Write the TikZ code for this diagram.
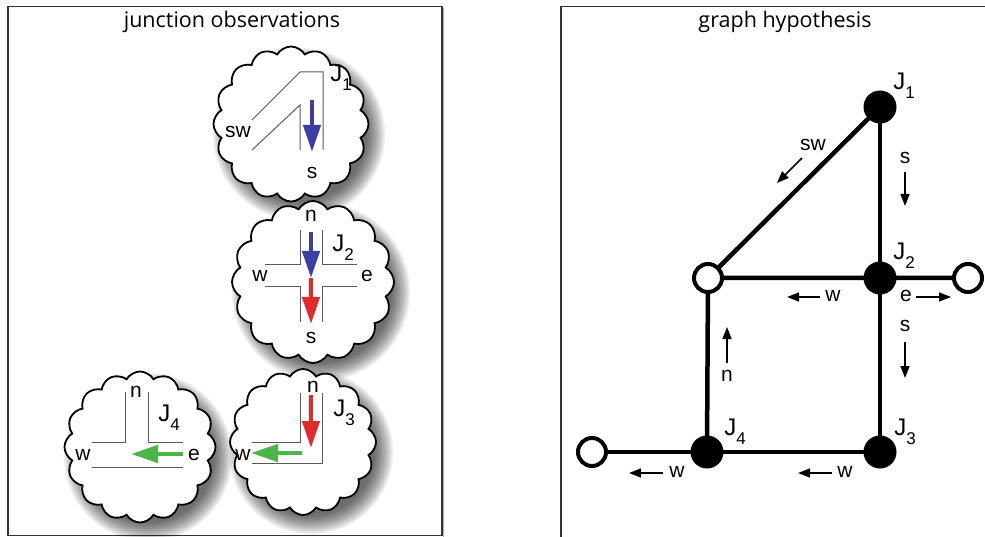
\documentclass[tikz,border=0pt]{standalone}
\usepackage{fontspec}
\setmainfont{Liberation Sans}
\newfontfamily\titlefont{Open Sans}
\usetikzlibrary{arrows.meta,shapes.symbols}

\definecolor{jblue}{RGB}{60,62,165}
\definecolor{jred}{RGB}{226,42,42}
\definecolor{jgreen}{RGB}{76,180,72}
\definecolor{roadgray}{RGB}{90,90,90}
\definecolor{framegray}{RGB}{50,50,50}

% junction name with a lowered index
\newcommand\jname[1]{J\raisebox{-0.38em}{\fontsize{17}{17}\selectfont #1}}

% soft drop shadow under a cloud: centre x, centre y, radius
\newcommand\cloudshadow[3]{%
  \foreach \k in {0,...,13}{%
    \fill[black, opacity=0.055] ({#1+8},{#2+10}) circle[radius={(#3-6+\k*1.4)*1pt}];
  }%
}

\tikzset{
  puff/.style={cloud, cloud puffs=16, cloud puff arc=120, aspect=1,
    draw=black, line width=1.8pt, fill=white, inner sep=0pt, minimum size=#1},
  road/.style={roadgray, line width=1pt},
  flow/.style={line width=4.5pt, -{Triangle[length=27pt,width=17pt]}},
  dirlbl/.style={font=\fontsize{21}{21}\selectfont, inner sep=0pt},
  jlbl/.style={font=\fontsize{24}{24}\selectfont, inner sep=0pt},
  titlelbl/.style={font=\titlefont\fontsize{21.5}{21.5}\selectfont, inner sep=0pt},
  gedge/.style={line width=4.5pt},
  hit/.style={circle, fill=black, minimum size=33pt, inner sep=0pt},
  open/.style={circle, draw=black, line width=4pt, fill=white,
    minimum size=28pt, inner sep=0pt},
  hint/.style={line width=1.6pt, -{Triangle[length=12pt,width=9pt]}},
}

\begin{document}
\begin{tikzpicture}[x=1pt, y=-1pt]
\useasboundingbox (0,0) rectangle (985,537);
\fill[white] (0,0) rectangle (985,537);

% ---------- panel frames ----------
\draw[framegray, line width=1.5pt] (8,6.5) rectangle (442,535.5);
\draw[gray!60, line width=1pt] (443.8,8) -- (443.8,537);
\draw[framegray, line width=1.5pt] (561,537) -- (561,6.5) -- (985,6.5);

\node[titlelbl] (ttl1) at (232,22) {junction observations};
\node[titlelbl] (ttl2) at (785,22) {graph hypothesis};

% ---------- J1 observation ----------
\cloudshadow{291}{124}{74}
\node[puff=155pt] (c1) at (291,124) {};
\draw[road] (252,120) -- (300,72) -- (323,72) -- (323,150);
\draw[road] (252,150) -- (300,105) -- (300,150);
\coordinate (b1s) at (312,100);
\coordinate (b1e) at (312,152);
\draw[flow, jblue] (b1s) -- (b1e);
\node[dirlbl] (c1sw) at (238,132) {sw};
\node[dirlbl] (c1s) at (312,173) {s};
\node[jlbl] (c1j) at (341,78) {\jname{1}};

% ---------- J2 observation ----------
\cloudshadow{313}{282}{77}
\node[puff=162pt] (c2) at (313,282) {};
\draw[road] (300,230) -- (300,265) -- (265,265);
\draw[road] (322,230) -- (322,265) -- (357,265);
\draw[road] (265,287) -- (300,287) -- (300,322);
\draw[road] (357,287) -- (322,287) -- (322,322);
\coordinate (b2s) at (311,232);
\coordinate (b2m) at (311,278);
\coordinate (b2e) at (311,324);
\draw[flow, jred] (b2m) -- (b2e);
\draw[flow, jblue] (b2s) -- (b2m);
\node[dirlbl] (c2n) at (311,216) {n};
\node[dirlbl] (c2w) at (260,276) {w};
\node[dirlbl] (c2e) at (367,276) {e};
\node[dirlbl] (c2s) at (311,338) {s};
\node[jlbl] (c2j) at (343,248) {\jname{2}};

% ---------- J4 observation ----------
\cloudshadow{140}{447}{72}
\node[puff=151pt] (c4) at (140,447) {};
\draw[road] (125,392) -- (125,442) -- (92,442);
\draw[road] (148,392) -- (148,442) -- (183,442);
\draw[road] (92,467) -- (183,467);
\coordinate (g4s) at (183,454);
\coordinate (g4e) at (131,454);
\draw[flow, jgreen] (g4s) -- (g4e);
\node[dirlbl] (c4n) at (136,392) {n};
\node[dirlbl] (c4w) at (83,455) {w};
\node[dirlbl] (c4e) at (194,455) {e};
\node[jlbl] (c4j) at (169,418) {\jname{4}};

% ---------- J3 observation ----------
\cloudshadow{303}{442}{70}
\node[puff=146pt] (c3) at (303,442) {};
\draw[road] (322,393) -- (322,463) -- (252,463);
\draw[road] (300,393) -- (300,442) -- (252,442);
\coordinate (r3s) at (311,395);
\coordinate (r3e) at (311,448);
\coordinate (g3s) at (302,453);
\coordinate (g3e) at (251,453);
\draw[flow, jred] (r3s) -- (r3e);
\draw[flow, jgreen] (g3s) -- (g3e);
\node[dirlbl] (c3n) at (313,387) {n};
\node[dirlbl] (c3w) at (243,455) {w};
\node[jlbl] (c3j) at (344,413) {\jname{3}};

% ---------- graph hypothesis ----------
\coordinate (pj1) at (880,107);
\coordinate (pj2) at (880,278);
\coordinate (pj3) at (880,452);
\coordinate (pj4) at (707,452);
\coordinate (po1) at (708,278);
\coordinate (po2) at (968,278);
\coordinate (po3) at (592,452);

\draw[gedge] (pj1) -- (pj2) -- (pj3) -- (pj4) -- (po3);
\draw[gedge] (pj1) -- (po1) -- (pj2) -- (po2);
\draw[gedge] (po1) -- (pj4);

\node[hit] (j1) at (pj1) {};
\node[hit] (j2) at (pj2) {};
\node[hit] (j3) at (pj3) {};
\node[hit] (j4) at (pj4) {};
\node[open] (o1) at (po1) {};
\node[open] (o2) at (po2) {};
\node[open] (o3) at (po3) {};

\node[jlbl] (j1l) at (904,86) {\jname{1}};
\node[jlbl] (j2l) at (904,256) {\jname{2}};
\node[jlbl] (j4l) at (735,432) {\jname{4}};
\node[jlbl] (j3l) at (905,432) {\jname{3}};

% direction hints along the edges
\node[dirlbl] (hsw) at (813,145) {sw};
\coordinate (hsw1) at (802,158);
\coordinate (hsw2) at (777,183);
\draw[hint] (hsw1) -- (hsw2);

\node[dirlbl] (hs1) at (905,158) {s};
\coordinate (hs1a) at (905,172);
\coordinate (hs1b) at (905,206);
\draw[hint] (hs1a) -- (hs1b);

\node[dirlbl] (hw1) at (833,296) {w};
\coordinate (hw1a) at (820,297);
\coordinate (hw1b) at (787,297);
\draw[hint] (hw1a) -- (hw1b);

\node[dirlbl] (he1) at (906,296) {e};
\coordinate (he1a) at (916,297);
\coordinate (he1b) at (951,297);
\draw[hint] (he1a) -- (he1b);

\node[dirlbl] (hs2) at (905,326) {s};
\coordinate (hs2a) at (905,342);
\coordinate (hs2b) at (905,378);
\draw[hint] (hs2a) -- (hs2b);

\node[dirlbl] (hn) at (727,376) {n};
\coordinate (hna) at (727,363);
\coordinate (hnb) at (727,327);
\draw[hint] (hna) -- (hnb);

\node[dirlbl] (hw2) at (845,472) {w};
\coordinate (hw2a) at (832,473);
\coordinate (hw2b) at (798,473);
\draw[hint] (hw2a) -- (hw2b);

\node[dirlbl] (hw3) at (677,472) {w};
\coordinate (hw3a) at (663,473);
\coordinate (hw3b) at (629,473);
\draw[hint] (hw3a) -- (hw3b);
\end{tikzpicture}
\end{document}
